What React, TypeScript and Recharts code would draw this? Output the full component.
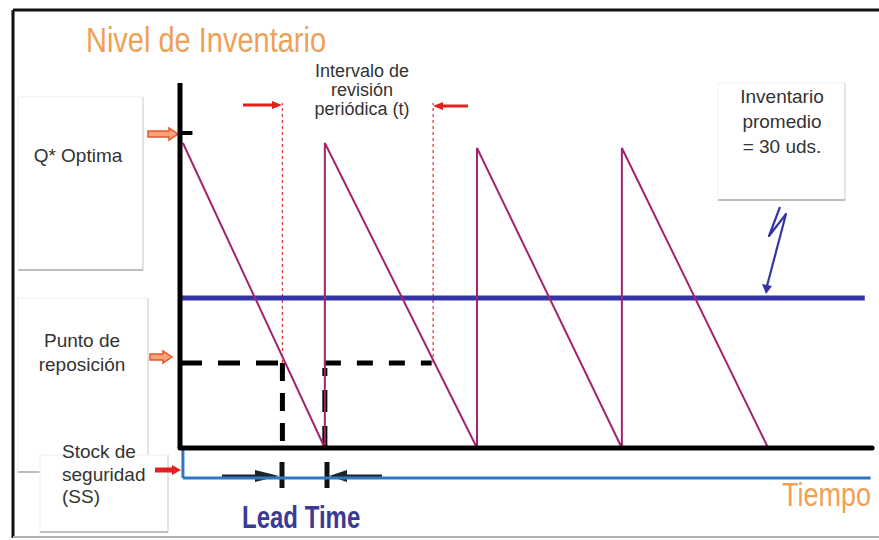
import React from 'react';
import { LineChart, Line, XAxis, YAxis, ReferenceLine, Customized } from 'recharts';

// ---- data ----
const cycleTimes = [0.2, 9.9, 9.9, 20.3, 20.3, 30.2, 30.2, 40.2];
const inventoryLevels = [61, 0, 61, 0, 60, 0, 60, 0];
const qOptimaLevel = 63;
const averageInventory = 30;
const reorderPoint = 17;
const safetyStock = -6;
const leadTimeStart = 7.0;
const leadTimeEnd = 9.9;
const reviewStart = 7.0;
const reviewEnd = 17.3;
const secondReorderEnd = 17.2;
const axisTop = 73;
const xDomainEnd = 47.5;
const axisEnd = 47.3;
const averageEnd = 46.8;
const ssStart = 0.2;
const ssEnd = 47.2;
const reviewTop = 69;

const data = cycleTimes.map((t, i) => ({ t, inv: inventoryLevels[i] }));

const FONT = '"Liberation Sans", Arial, sans-serif';

function Box({ x, y, w, h }: { x: number; y: number; w: number; h: number }) {
  return (
    <g>
      <rect x={x} y={y} width={w} height={h} fill="#fff" stroke="#f0f0f0" strokeWidth={1} />
      <line x1={x + w} y1={y} x2={x + w} y2={y + h} stroke="#dcdcdc" strokeWidth={1.5} />
      <line x1={x} y1={y + h} x2={x + w} y2={y + h} stroke="#bdbdbd" strokeWidth={2} />
    </g>
  );
}

function BlockArrow({ x1, x2, y }: { x1: number; x2: number; y: number }) {
  const hl = 9;
  const pts = [
    [x1, y - 3], [x2 - hl, y - 3], [x2 - hl, y - 6], [x2, y], [x2 - hl, y + 6], [x2 - hl, y + 3], [x1, y + 3],
  ].map((p) => p.join(',')).join(' ');
  return <polygon points={pts} fill="#f7a27a" stroke="#e4582c" strokeWidth={1.5} />;
}

function Arrow({ x1, x2, y, color, w = 3, head = 10, hh = 5 }: { x1: number; x2: number; y: number; color: string; w?: number; head?: number; hh?: number }) {
  const dir = x2 > x1 ? 1 : -1;
  const base = x2 - dir * head;
  return (
    <g>
      <line x1={x1} y1={y} x2={base} y2={y} stroke={color} strokeWidth={w} />
      <polygon points={`${base},${y - hh} ${x2},${y} ${base},${y + hh}`} fill={color} />
    </g>
  );
}

function TallText({ x, y, size, sy, fill, bold, children }: { x: number; y: number; size: number; sy: number; fill: string; bold?: boolean; children: string }) {
  return (
    <g transform={`translate(${x},${y}) scale(1,${sy})`}>
      <text x={0} y={0} fontFamily={FONT} fontSize={size} fontWeight={bold ? 'bold' : 'normal'} fill={fill}>
        {children}
      </text>
    </g>
  );
}

function Annotations() {
  return (
    <g>
      {/* frame */}
      <line x1={13} y1={10} x2={879} y2={10} stroke="#111" strokeWidth={3} />
      <line x1={13} y1={10} x2={13} y2={538} stroke="#111" strokeWidth={3} />
      <line x1={13} y1={537} x2={879} y2={537} stroke="#b0b0b0" strokeWidth={2} />

      <TallText x={86} y={52} size={29} sy={1.2} fill="#efa055">Nivel de Inventario</TallText>

      <g fontFamily={FONT} fontSize={18} fill="#333" textAnchor="middle">
        <text x={362} y={77}>Intervalo de</text>
        <text x={362} y={96}>revisión</text>
        <text x={362} y={115}>periódica (t)</text>
      </g>

      {/* left boxes */}
      <Box x={18} y={97} w={125} h={173} />
      <Box x={18} y={298} w={130} h={174} />
      <Box x={40} y={455} w={128} h={77} />
      <Box x={718} y={83} w={127} h={117} />

      <g fontFamily={FONT} fontSize={19} fill="#333">
        <text x={78} y={162} textAnchor="middle">Q* Optima</text>
        <text x={82} y={347} textAnchor="middle">Punto de</text>
        <text x={82} y={371} textAnchor="middle">reposición</text>
        <text x={62} y={458}>Stock de</text>
        <text x={62} y={481}>seguridad</text>
        <text x={62} y={503}>(SS)</text>
        <text x={782} y={103} textAnchor="middle">Inventario</text>
        <text x={782} y={128} textAnchor="middle">promedio</text>
        <text x={782} y={153} textAnchor="middle">= 30 uds.</text>
      </g>

      <BlockArrow x1={148} x2={178} y={134} />
      <BlockArrow x1={150} x2={172} y={357} />
      <Arrow x1={155} x2={181} y={470} color="#e3201c" w={5} head={9} hh={5} />

      {/* review interval arrows */}
      <Arrow x1={243} x2={282} y={105} color="#e3201c" w={3} head={10} hh={4} />
      <Arrow x1={468} x2={433} y={106} color="#e3201c" w={3} head={10} hh={4} />

      {/* lead time arrows */}
      <Arrow x1={222} x2={279} y={476} color="#1c2430" w={3} head={24} hh={6} />
      <Arrow x1={382} x2={329} y={476} color="#1c2430" w={3} head={18} hh={6} />
      <line x1={282} y1={462} x2={282} y2={488} stroke="#111" strokeWidth={5} />
      <line x1={327} y1={462} x2={327} y2={488} stroke="#111" strokeWidth={5} />

      <TallText x={242} y={528} size={24} sy={1.3} fill="#3b3b96" bold>Lead Time</TallText>
      <TallText x={782} y={506} size={27} sy={1.25} fill="#efa055">Tiempo</TallText>

      {/* squiggle pointer */}
      <polyline points="780,207 769,236 786,214 767,286" fill="none" stroke="#3535a5" strokeWidth={2.2} strokeLinejoin="round" />
      <polygon points="762,284 772,286 766,294" fill="#3535a5" />
    </g>
  );
}

export default function App() {
  return (
    <div style={{ position: 'absolute', left: 0, top: 0, width: 879, height: 540, background: '#fff' }}>
      <LineChart width={879} height={540} data={data} margin={{ top: 78, right: 4, bottom: 12, left: 180 }}>
        <XAxis type="number" dataKey="t" domain={[0, xDomainEnd]} hide allowDataOverflow />
        <YAxis type="number" domain={[-16, 74]} hide allowDataOverflow />
        <Customized component={Annotations} />

        {/* review interval dotted lines */}
        <ReferenceLine segment={[{ x: reviewStart, y: reorderPoint }, { x: reviewStart, y: reviewTop }]} stroke="#e83a3a" strokeWidth={1.3} strokeDasharray="3 3" ifOverflow="visible" />
        <ReferenceLine segment={[{ x: reviewEnd, y: reorderPoint }, { x: reviewEnd, y: reviewTop }]} stroke="#e83a3a" strokeWidth={1.3} strokeDasharray="3 3" ifOverflow="visible" />

        {/* average inventory */}
        <ReferenceLine segment={[{ x: 0, y: averageInventory }, { x: averageEnd, y: averageInventory }]} stroke="#3434a8" strokeWidth={5} ifOverflow="visible" />

        {/* safety stock */}
        <ReferenceLine segment={[{ x: ssStart, y: 0 }, { x: ssStart, y: safetyStock }]} stroke="#2f78c2" strokeWidth={3} ifOverflow="visible" />
        <ReferenceLine segment={[{ x: ssStart, y: safetyStock }, { x: ssEnd, y: safetyStock }]} stroke="#2f78c2" strokeWidth={3} ifOverflow="visible" />

        {/* reorder point dashed */}
        <ReferenceLine segment={[{ x: 0, y: reorderPoint }, { x: leadTimeStart, y: reorderPoint }]} stroke="#000" strokeWidth={5} strokeDasharray="22 16" ifOverflow="visible" />
        <ReferenceLine segment={[{ x: leadTimeStart, y: reorderPoint }, { x: leadTimeStart, y: 0 }]} stroke="#000" strokeWidth={5} strokeDasharray="18 12" ifOverflow="visible" />
        <ReferenceLine segment={[{ x: leadTimeEnd, y: 0 }, { x: leadTimeEnd, y: reorderPoint - 1 }]} stroke="#000" strokeWidth={5} strokeDasharray="22 14" ifOverflow="visible" />
        <ReferenceLine segment={[{ x: leadTimeEnd, y: reorderPoint }, { x: secondReorderEnd, y: reorderPoint }]} stroke="#000" strokeWidth={5} strokeDasharray="16 16" ifOverflow="visible" />

        <Line type="linear" dataKey="inv" stroke="#a3246e" strokeWidth={2} dot={false} isAnimationActive={false} />

        {/* axes */}
        <ReferenceLine segment={[{ x: 0, y: 0 }, { x: 0, y: axisTop }]} stroke="#000" strokeWidth={5} ifOverflow="visible" />
        <ReferenceLine segment={[{ x: 0, y: 0 }, { x: axisEnd, y: 0 }]} stroke="#000" strokeWidth={5} strokeLinecap="round" ifOverflow="visible" />
        <ReferenceLine segment={[{ x: 0, y: qOptimaLevel }, { x: 0.85, y: qOptimaLevel }]} stroke="#000" strokeWidth={4} ifOverflow="visible" />
      </LineChart>
    </div>
  );
}
